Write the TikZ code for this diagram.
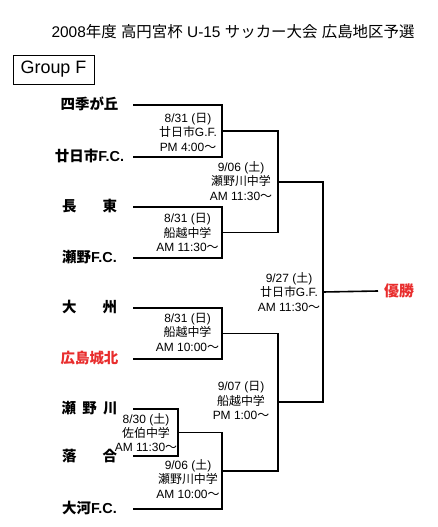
\documentclass[tikz,border=0pt]{standalone}
\usepackage{fontspec}
\setmainfont{Liberation Sans}
\newfontfamily\cjk{Noto Sans CJK JP}
\newcommand\JP[1]{{\cjk #1}}
\definecolor{winred}{RGB}{232,45,45}
\begin{document}
\begin{tikzpicture}[x=1bp,y=-1bp,
  br/.style={line width=1.6bp, line join=miter},
  team/.style={font=\fontsize{14.5}{16}\selectfont\bfseries, inner sep=0},
  info/.style={font=\fontsize{12}{14.5}\selectfont, align=center, inner sep=0},
]
\useasboundingbox (0,0) rectangle (438,527);
% title
\node[font=\fontsize{15.5}{18}\selectfont, inner sep=0] (title) at (233,32)
  {2008\JP{年度} \JP{高円宮杯} U-15 \JP{サッカー大会} \JP{広島地区予選}};
\node[draw, line width=0.8bp, minimum width=81bp, minimum height=29bp, inner sep=0,
  font=\fontsize{18}{20}\selectfont] (group) at (53.5,69.5) {Group F};
% teams
\node[team] (n1) at (89.5,104) {\JP{四季が丘}};
\node[team] (n2) at (89.5,156) {\JP{廿日市}F.C.};
\node[team] (n3) at (89.5,206) {\makebox[55bp][s]{\JP{長}\hfill\JP{東}}};
\node[team] (n4) at (89.5,257) {\JP{瀬野}F.C.};
\node[team] (n5) at (89.5,307) {\makebox[55bp][s]{\JP{大}\hfill\JP{州}}};
\node[team, text=winred] (n6) at (89.5,358) {\JP{広島城北}};
\node[team] (n7) at (89.5,408) {\makebox[56bp][s]{\JP{瀬}\hfill\JP{野}\hfill\JP{川}}};
\node[team] (n8) at (89.5,456) {\makebox[55bp][s]{\JP{落}\hfill\JP{合}}};
\node[team] (n9) at (89.5,508) {\JP{大河}F.C.};
% line ends
\coordinate (t1) at (133,105);
\coordinate (t2) at (133,157);
\coordinate (t3) at (133,207);
\coordinate (t4) at (133,258);
\coordinate (t5) at (133,308);
\coordinate (t6) at (133,359);
\coordinate (t7) at (133,409);
\coordinate (t8) at (133,456);
\coordinate (t9) at (133,509);
\coordinate (m1) at (222,131);
\coordinate (m2) at (222,232.5);
\coordinate (m3) at (222,333.5);
\coordinate (m4) at (178,432.5);
\coordinate (m5) at (222,471);
\coordinate (s1) at (278,182);
\coordinate (s2) at (278,402);
\coordinate (f) at (323,292);
% bracket
\draw[br] (t1) -| (m1) |- (t2);
\draw[br] (t3) -| (m2) |- (t4);
\draw[br] (t5) -| (m3) |- (t6);
\draw[br] (t7) -| (m4) |- (t8);
\draw[br] (m4) -| (m5) |- (t9);
\draw[br] (m1) -| (s1) |- (m2);
\draw[br] (m3) -| (s2) |- (m5);
\draw[br] (s1) -| (f) |- (s2);
\node[font=\fontsize{15}{17}\selectfont\bfseries, text=winred, inner sep=0, anchor=west] (win) at (384,291) {\JP{優勝}};
\draw[br] (f) -- ([xshift=-6bp]win.west);
% match info
\node[info] (i1) at (188,132) {8/31 (\JP{日})\\\JP{廿日市}G.F.\\PM 4:00\JP{〜}};
\node[info] (i2) at (187.5,232.5) {8/31 (\JP{日})\\\JP{船越中学}\\AM 11:30\JP{〜}};
\node[info] (i3) at (187.5,332) {8/31 (\JP{日})\\\JP{船越中学}\\AM 10:00\JP{〜}};
\node[info] (i4) at (146,432.5) {8/30 (\JP{土})\\\JP{佐伯中学}\\AM 11:30\JP{〜}};
\node[info] (i5) at (188,479) {9/06 (\JP{土})\\\JP{瀬野川中学}\\AM 10:00\JP{〜}};
\node[info] (i6) at (241,181) {9/06 (\JP{土})\\\JP{瀬野川中学}\\AM 11:30\JP{〜}};
\node[info] (i7) at (241,400.5) {9/07 (\JP{日})\\\JP{船越中学}\\PM 1:00\JP{〜}};
\node[info] (i8) at (289,292) {9/27 (\JP{土})\\\JP{廿日市}G.F.\\AM 11:30\JP{〜}};
\end{tikzpicture}
\end{document}
